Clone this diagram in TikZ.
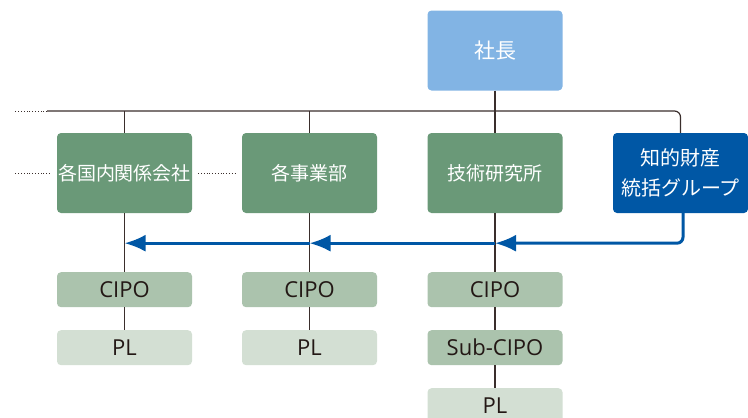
\documentclass[tikz,border=0pt]{standalone}
\usepackage{fontspec}
\setmainfont{Noto Sans CJK JP}
\newfontfamily\latinfont{Open Sans}
\usetikzlibrary{arrows.meta,calc}
\definecolor{ceoblue}{HTML}{82B4E4}
\definecolor{orggreen}{HTML}{6A9978}
\definecolor{ipblue}{HTML}{0057A5}
\definecolor{cipogreen}{HTML}{ABC3AD}
\definecolor{plgreen}{HTML}{D3DFD3}
\definecolor{ink}{HTML}{231815}
\definecolor{wire}{HTML}{3A2E2C}
\begin{document}
\begin{tikzpicture}[x=1pt, y=-1pt, >={Latex[length=21pt,width=17pt]},
          box/.style={rounded corners=4pt, minimum width=135pt, inner sep=0pt, align=center},
          big/.style={box, minimum height=80pt, text=white, font=\fontsize{19}{24}\selectfont},
          small/.style={box, minimum height=35pt, text=ink, font=\latinfont\fontsize{22}{24}\selectfont},
          ln/.style={draw=wire, line width=1.2pt},
          dots/.style={draw=wire, line width=0.8pt, dotted},
          barr/.style={->, draw=ipblue, line width=3pt}]
        \useasboundingbox (0,0) rectangle (748,418);
        % top and first row
        \node[big, fill=ceoblue, font=\fontsize{21}{24}\selectfont] (ceo) at (495,50.5) {社長};
        \node[big, fill=orggreen] (g1) at (124.5,173) {各国内関係会社};
        \node[big, fill=orggreen] (g2) at (309.5,173) {各事業部};
        \node[big, fill=orggreen] (g3) at (495,173) {技術研究所};
        \node[big, fill=ipblue, font=\fontsize{20}{30}\selectfont] (ipg) at (680.5,173) {知的財産\\統括グループ};
        % CIPO rows
        \foreach \col in {1,2,3} {
          \node[small, fill=cipogreen] (c\col) at ($(g\col.south)+(0,76.5)$) {CIPO};
          \draw[ln] (g\col.south) -- (c\col.north);
        }
        \node[small, fill=plgreen] (p1) at ($(c1)+(0,58)$) {PL};
        \node[small, fill=plgreen] (p2) at ($(c2)+(0,58)$) {PL};
        \node[small, fill=cipogreen] (s3) at ($(c3)+(0,58)$) {Sub-CIPO};
        \node[small, fill=plgreen] (p3) at ($(s3)+(0,58)$) {PL};
        \draw[ln] (c1.south) -- (p1.north);
        \draw[ln] (c2.south) -- (p2.north);
        \draw[ln] (c3.south) -- (s3.north);
        \draw[ln] (s3.south) -- (p3.north);
        % bus line
        \coordinate (bus) at (47,111);
        \draw[ln, rounded corners=6pt] (bus) -| (ipg.north);
        \draw[ln] (ceo.south) -- (ceo.south |- bus);
        \foreach \col in {1,2,3}
          \draw[ln] (g\col.north |- bus) -- (g\col.north);
        \draw[dots] (bus) -- ++(-33,0);
        \draw[dots] ($(g1.west)+(-7,0)$) -- ++(-36,0);
        \draw[dots] ($(g1.east)+(6,0)$) -- ($(g2.west)+(-6,0)$);
        % blue arrows
        \foreach \col in {1,2,3}
          \coordinate (a\col) at ($(g\col.south)+(0,30)$);
        \draw[barr, rounded corners=6pt] ($(ipg.south)+(2.5,0)$) |- (a3);
        \draw[barr] (a3) -- (a2);
        \draw[barr] (a2) -- (a1);
      \end{tikzpicture}
\end{document}
